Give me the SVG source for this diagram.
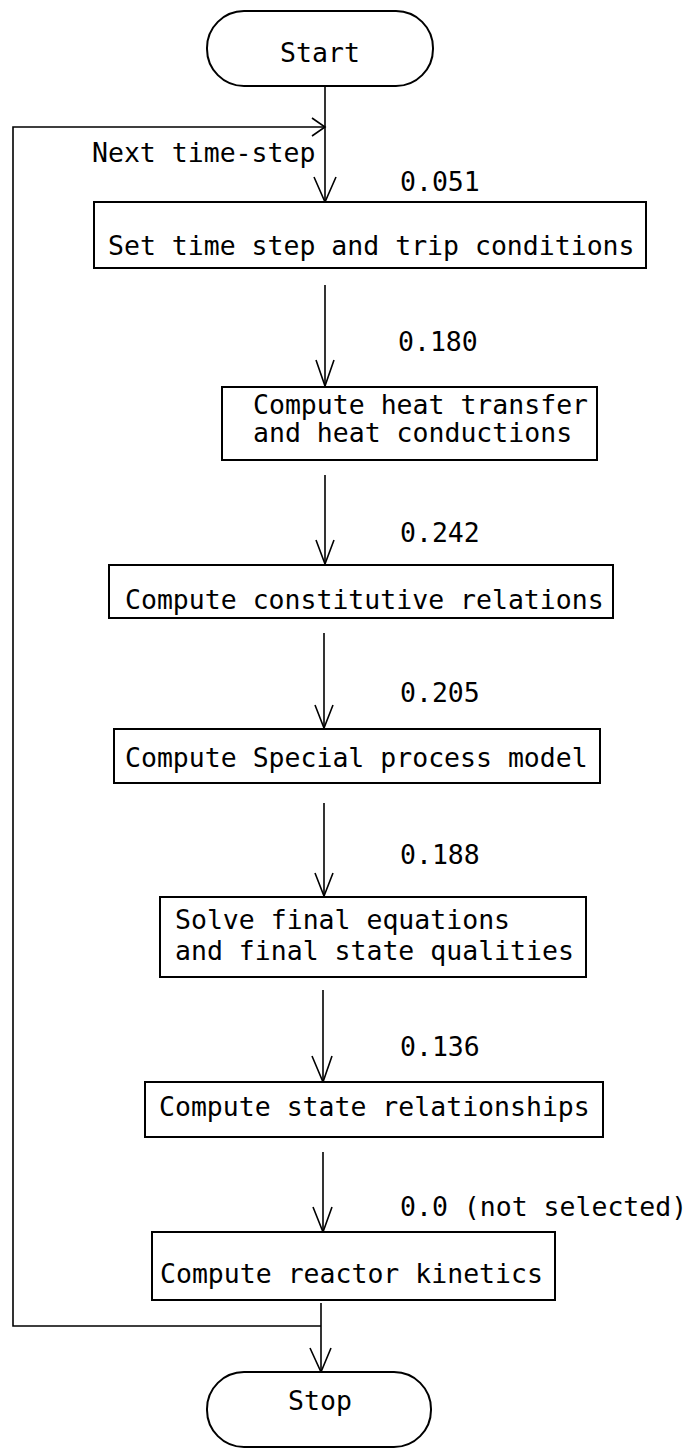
<svg xmlns="http://www.w3.org/2000/svg" width="690" height="1450" viewBox="0 0 690 1450">
  <style>
    .box { fill: #fff; stroke: #000; stroke-width: 2; }
    .wire { fill: none; stroke: #000; stroke-width: 1.6; }
    .head { fill: none; stroke: #000; stroke-width: 1.6; stroke-linejoin: miter; }
    text { font-family: "DejaVu Sans Mono", "Liberation Mono", monospace; font-size: 26.5px; fill: #000; }
  </style>
  <rect width="690" height="1450" fill="#fff"/>

  <!-- connectors -->
  <g id="connectors">
    <!-- main flow -->
    <path class="wire" d="M325 87 V201"/>
    <path class="head" d="M314 177 L325 202 L336 177"/>
    <path class="wire" d="M325 285 V386"/>
    <path class="head" d="M316 360 L325 386 L334 360"/>
    <path class="wire" d="M325 475 V564"/>
    <path class="head" d="M316 540 L325 564 L334 540"/>
    <path class="wire" d="M324 633 V728"/>
    <path class="head" d="M315 705 L324 728 L333 705"/>
    <path class="wire" d="M324 803 V896"/>
    <path class="head" d="M315 873 L324 896 L333 873"/>
    <path class="wire" d="M323 990 V1082"/>
    <path class="head" d="M312 1056 L323 1082 L332 1056"/>
    <path class="wire" d="M323 1152 V1232"/>
    <path class="head" d="M313 1207 L323 1232 L332 1207"/>
    <path class="wire" d="M321 1303 V1372"/>
    <path class="head" d="M310 1348 L321 1372 L331 1348"/>
    <!-- return loop for the next time step -->
    <path class="wire" d="M321 1326 H13 V127 H325" stroke-width="2"/>
    <path class="head" d="M312 118 L325 127 L312 136"/>
  </g>

  <g id="start">
    <rect class="box" x="207" y="11" width="226" height="75" rx="37"/>
    <text x="320" y="62" text-anchor="middle">Start</text>
  </g>

  <g id="label-next">
    <text x="92" y="162">Next time-step</text>
  </g>

  <g id="step-trip">
    <text x="400" y="191">0.051</text>
    <rect class="box" x="94" y="202" width="552" height="66"/>
    <text x="108" y="255">Set time step and trip conditions</text>
  </g>

  <g id="heat-transfer">
    <text x="398" y="351">0.180</text>
    <rect class="box" x="222" y="387" width="375" height="73"/>
    <text x="253" y="414">Compute heat transfer</text>
    <text x="253" y="442">and heat conductions</text>
  </g>

  <g id="constitutive">
    <text x="400" y="542">0.242</text>
    <rect class="box" x="109" y="565" width="504" height="53"/>
    <text x="125" y="609">Compute constitutive relations</text>
  </g>

  <g id="special-process">
    <text x="400" y="702">0.205</text>
    <rect class="box" x="114" y="729" width="486" height="54"/>
    <text x="125" y="767">Compute Special process model</text>
  </g>

  <g id="final-equations">
    <text x="400" y="864">0.188</text>
    <rect class="box" x="160" y="897" width="426" height="80"/>
    <text x="175" y="929">Solve final equations</text>
    <text x="175" y="960">and final state qualities</text>
  </g>

  <g id="state-relationships">
    <text x="400" y="1056">0.136</text>
    <rect class="box" x="145" y="1082" width="458" height="55"/>
    <text x="159" y="1116">Compute state relationships</text>
  </g>

  <g id="reactor-kinetics">
    <text x="400" y="1216">0.0 (not selected)</text>
    <rect class="box" x="152" y="1232" width="403" height="68"/>
    <text x="160" y="1283">Compute reactor kinetics</text>
  </g>

  <g id="stop">
    <rect class="box" x="207" y="1372" width="224" height="75" rx="37"/>
    <text x="320" y="1410" text-anchor="middle">Stop</text>
  </g>
</svg>
